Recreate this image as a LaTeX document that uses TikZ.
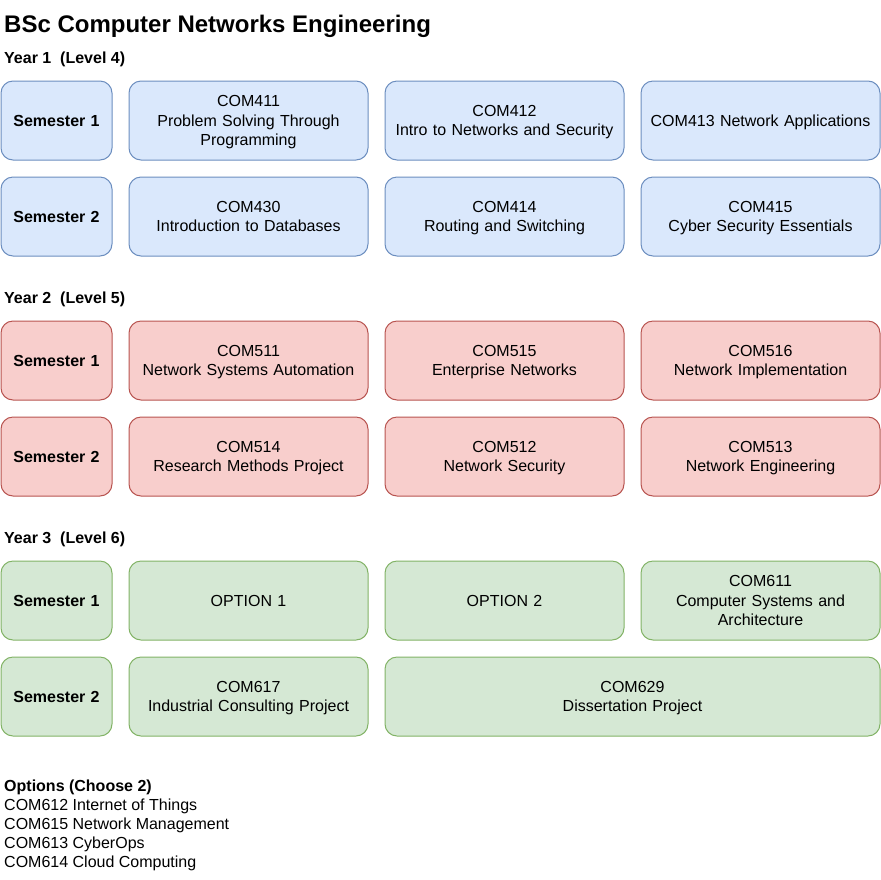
\documentclass[tikz,border=0pt]{standalone}
\usepackage{fontspec}
\setmainfont{Liberation Sans}
\definecolor{y1fill}{HTML}{DAE8FC}
\definecolor{y1line}{HTML}{6C8EBF}
\definecolor{y2fill}{HTML}{F8CECC}
\definecolor{y2line}{HTML}{B85450}
\definecolor{y3fill}{HTML}{D5E8D4}
\definecolor{y3line}{HTML}{82B366}
\newcommand\boxstrut{\rule[-4.05pt]{0pt}{19.2pt}}
\begin{document}
\begin{tikzpicture}[x=1pt,y=-1pt,
  boxstyle/.style={draw,rounded corners=12pt,line width=1pt,minimum height=79pt,inner sep=0pt,align=center,
    font=\fontsize{16}{19.2}\selectfont,execute at begin node=\boxstrut,execute at end node=\boxstrut},
  semstyle/.style={boxstyle,minimum width=111pt,text width=111pt,font=\fontsize{16}{19.2}\selectfont\bfseries},
  modstyle/.style={boxstyle,minimum width=239pt,text width=239pt},
  widestyle/.style={boxstyle,minimum width=495pt,text width=495pt},
  y1style/.style={fill=y1fill,draw=y1line},
  y2style/.style={fill=y2fill,draw=y2line},
  y3style/.style={fill=y3fill,draw=y3line},
  headstyle/.style={anchor=base west,inner sep=0pt,font=\fontsize{16}{19}\selectfont\bfseries}]
\useasboundingbox (0,0) rectangle (881,879);
\node[anchor=base west,inner sep=0pt,font=\fontsize{24}{28}\selectfont\bfseries] (title) at (4,32) {BSc Computer Networks Engineering};
% year 1
\node[headstyle] (yr1) at (4,63.5) {Year 1\ \ (Level 4)};
\node[semstyle,y1style] (s11) at (56.5,120.5) {Semester 1};
\node[modstyle,y1style] (m411) at (248.5,120.5) {COM411\\Problem Solving Through\\Programming};
\node[modstyle,y1style] (m412) at (504.5,120.5) {COM412\\Intro to Networks and Security};
\node[modstyle,y1style] (m413) at (760.5,120.5) {COM413 Network Applications};
\node[semstyle,y1style] (s12) at (56.5,216.5) {Semester 2};
\node[modstyle,y1style] (m430) at (248.5,216.5) {COM430\\Introduction to Databases};
\node[modstyle,y1style] (m414) at (504.5,216.5) {COM414\\Routing and Switching};
\node[modstyle,y1style] (m415) at (760.5,216.5) {COM415\\Cyber Security Essentials};
% year 2
\node[headstyle] (yr2) at (4,303.5) {Year 2\ \ (Level 5)};
\node[semstyle,y2style] (s21) at (56.5,360.5) {Semester 1};
\node[modstyle,y2style] (m511) at (248.5,360.5) {COM511\\Network Systems Automation};
\node[modstyle,y2style] (m515) at (504.5,360.5) {COM515\\Enterprise Networks};
\node[modstyle,y2style] (m516) at (760.5,360.5) {COM516\\Network Implementation};
\node[semstyle,y2style] (s22) at (56.5,456.5) {Semester 2};
\node[modstyle,y2style] (m514) at (248.5,456.5) {COM514\\Research Methods Project};
\node[modstyle,y2style] (m512) at (504.5,456.5) {COM512\\Network Security};
\node[modstyle,y2style] (m513) at (760.5,456.5) {COM513\\Network Engineering};
% year 3
\node[headstyle] (yr3) at (4,543.5) {Year 3\ \ (Level 6)};
\node[semstyle,y3style] (s31) at (56.5,600.5) {Semester 1};
\node[modstyle,y3style] (opt1) at (248.5,600.5) {OPTION 1};
\node[modstyle,y3style] (opt2) at (504.5,600.5) {OPTION 2};
\node[modstyle,y3style] (m611) at (760.5,600.5) {COM611\\Computer Systems and\\Architecture};
\node[semstyle,y3style] (s32) at (56.5,696.5) {Semester 2};
\node[modstyle,y3style] (m617) at (248.5,696.5) {COM617\\Industrial Consulting Project};
\node[widestyle,y3style] (m629) at (632.5,696.5) {COM629\\Dissertation Project};
% options
\node[anchor=north west,inner sep=0pt,align=left,font=\fontsize{16}{19}\selectfont] (opts) at (4,780)
  {\textbf{Options (Choose 2)}\\COM612 Internet of Things\\COM615 Network Management\\COM613 CyberOps\\COM614 Cloud Computing};
\end{tikzpicture}
\end{document}
